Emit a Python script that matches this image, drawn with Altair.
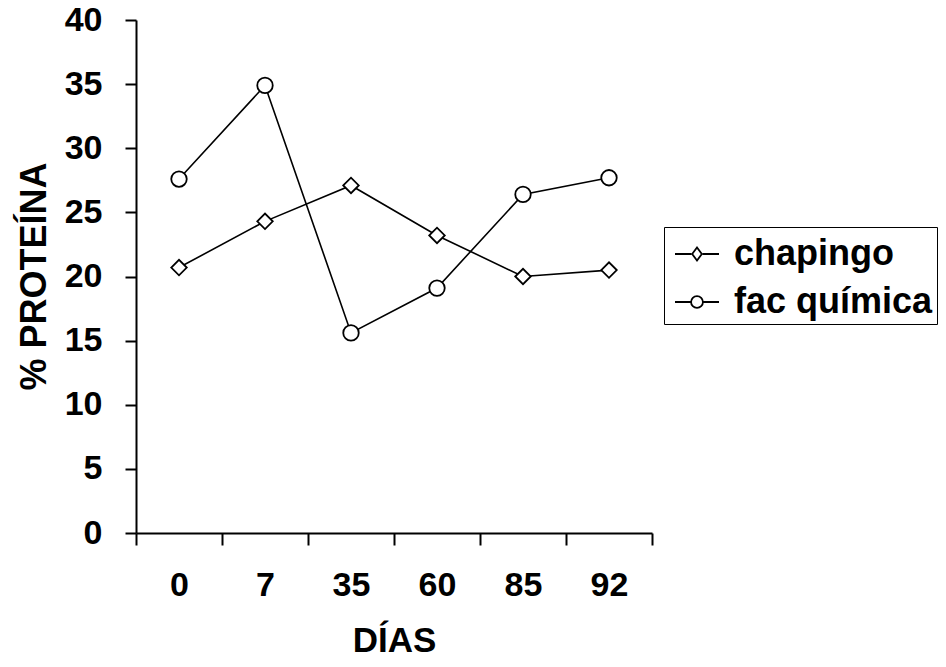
import altair as alt
import pandas as pd

dias = ["0", "7", "35", "60", "85", "92"]
chapingo = [20.7, 24.3, 27.1, 23.2, 20.0, 20.5]
fac_quimica = [27.6, 34.9, 15.6, 19.1, 26.4, 27.7]
series_names = ["chapingo", "fac química"]

rows = []
for d, v in zip(dias, chapingo):
    rows.append({"DIAS": d, "valor": v, "serie": series_names[0]})
for d, v in zip(dias, fac_quimica):
    rows.append({"DIAS": d, "valor": v, "serie": series_names[1]})
df = pd.DataFrame(rows)

FONT = "Liberation Sans"

x_enc = alt.X(
    "DIAS:N",
    sort=dias,
    title="DÍAS",
    scale=alt.Scale(paddingInner=0, paddingOuter=0),
    axis=alt.Axis(
        labelAngle=0,
        tickBand="extent",
        tickSize=12,
        tickWidth=2,
        tickColor="black",
        domainColor="black",
        domainWidth=2,
        labelFont=FONT,
        labelFontSize=34,
        labelFontWeight="bold",
        labelColor="black",
        labelPadding=23,
        titleFont=FONT,
        titleFontSize=35,
        titleFontWeight="bold",
        titleColor="black",
        titlePadding=21,
        grid=False,
    ),
)
y_enc = alt.Y(
    "valor:Q",
    title="% PROTEÍNA",
    scale=alt.Scale(domain=[0, 40], nice=False),
    axis=alt.Axis(
        values=[0, 5, 10, 15, 20, 25, 30, 35, 40],
        tickSize=11,
        tickWidth=2,
        tickColor="black",
        domainColor="black",
        domainWidth=2,
        labelFont=FONT,
        labelFontSize=34,
        labelFontWeight="bold",
        labelColor="black",
        labelPadding=23,
        titleFont=FONT,
        titleFontSize=36,
        titleFontWeight="bold",
        titleColor="black",
        titleX=-91,
        titleY=256,
        titleBaseline="alphabetic",
        grid=False,
    ),
)

lines = alt.Chart(df).mark_line(color="black", strokeWidth=1.6).encode(
    x=x_enc, y=y_enc, detail="serie:N"
)

points = alt.Chart(df).mark_point(
    filled=True, fill="white", stroke="black", strokeWidth=1.8, size=240, opacity=1
).encode(
    x=x_enc,
    y=y_enc,
    shape=alt.Shape(
        "serie:N",
        scale=alt.Scale(domain=series_names, range=["diamond", "circle"]),
        legend=None,
    ),
)

leg_diamond = "M-1,0L-0.26,0M0.26,0L1,0M-0.22,0L0,-0.3L0.22,0L0,0.3Z"
leg_circle = "M-1,0L-0.27,0M0.27,0L1,0M-0.27,0A0.27,0.27,0,1,1,0.27,0A0.27,0.27,0,1,1,-0.27,0Z"

legend_layer = alt.Chart(df).mark_point(
    filled=False, stroke="black", strokeWidth=1.8, opacity=0
).encode(
    x=x_enc,
    y=y_enc,
    shape=alt.Shape(
        "serie:N",
        scale=alt.Scale(domain=series_names, range=[leg_diamond, leg_circle]),
        legend=alt.Legend(
            title=None,
            orient="none",
            legendX=528,
            legendY=207,
            strokeColor="black",
            padding=4,
            symbolOffset=6,
            symbolSize=1936,
            symbolStrokeColor="black",
            symbolFillColor="white",
            symbolStrokeWidth=1.8,
            symbolOpacity=1,
            labelFont=FONT,
            labelFontSize=36,
            labelFontWeight="bold",
            labelColor="black",
            labelOffset=14,
            rowPadding=7,
            labelLimit=400,
        ),
    ),
)

chart = (
    alt.layer(lines, points, legend_layer)
    .resolve_scale(shape="independent")
    .properties(
        width=516,
        height=513,
        autosize=alt.AutoSizeParams(type="none"),
        padding={"left": 136, "top": 20, "right": 294, "bottom": 134},
        background="white",
    )
    .configure_view(stroke=None)
)

chart.save("out.html", embed_options={"renderer": "svg", "actions": False})
